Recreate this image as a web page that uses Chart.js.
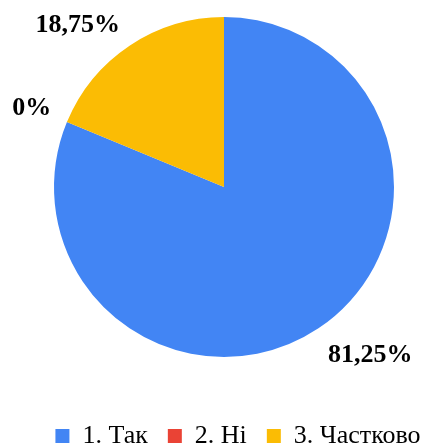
<!DOCTYPE html>
<html lang="uk">
<head>
<meta charset="utf-8">
<title>Pie</title>
<script src="https://cdn.jsdelivr.net/npm/chart.js@4"></script>
<style>
  html, body { margin: 0; padding: 0; background: #fff; overflow: hidden; }
  #wrap { position: relative; width: 428px; height: 447px; }
</style>
</head>
<body>
<div id="wrap"><canvas id="chart"></canvas></div>
<script>
/* ─── Data ─────────────────────────────────────────────────────────── */
const labels  = ['1. Так', '2. Ні', '3. Частково'];
const values  = [81.25, 0, 18.75];
const colours = ['#4285F4', '#EA4335', '#FBBC04'];

const SERIF = '"Liberation Serif", "Times New Roman", serif';

/* ─── Percent labels outside the slices ───────────────────────────── */
const outsideLabels = {
  id: 'outsideLabels',
  afterDatasetsDraw(chart) {
    const ctx = chart.ctx;
    const meta = chart.getDatasetMeta(0);
    ctx.save();
    ctx.font = 'bold 26px ' + SERIF;
    ctx.fillStyle = '#000';
    meta.data.forEach((arc, i) => {
      const { x, y, startAngle, endAngle, outerRadius } = arc.getProps(['x', 'y', 'startAngle', 'endAngle', 'outerRadius'], true);
      const mid = (startAngle + endAngle) / 2;
      const c = Math.cos(mid), s = Math.sin(mid);
      const d = outerRadius + 17;
      // nearest corner of the text sits on the ray through the slice middle
      ctx.textAlign = c >= 0 ? 'left' : 'right';
      ctx.textBaseline = s >= 0 ? 'top' : 'alphabetic';
      const txt = values[i].toString().replace('.', ',') + '%';
      ctx.fillText(txt, x + c * d, y + s * d);
    });
    ctx.restore();
  }
};

// the legend sits a little right of and below where Chart.js puts it
const legendShift = {
  id: 'legendShift',
  afterLayout(chart) {
    const lg = chart.legend;
    if (!lg) return;
    const dx = 14, dy = 29;
    lg.left += dx; lg.right += dx;
    lg.top += dy; lg.bottom += dy;
  }
};

new Chart(document.getElementById('chart'), {
  type: 'pie',
  data: {
    labels: labels,
    datasets: [{
      data: values,
      backgroundColor: colours,
      borderWidth: 0,
      radius: 170
    }]
  },
  options: {
    responsive: true,
    maintainAspectRatio: false,
    animation: false,
    layout: { padding: { top: 0, left: 20, right: 0, bottom: 17 } },
    plugins: {
      tooltip: { enabled: false },
      legend: {
        position: 'bottom',
        labels: {
          boxWidth: 14,
          boxHeight: 14,
          padding: 20,
          color: '#000',
          font: { family: SERIF, size: 26 }
        }
      }
    }
  },
  plugins: [outsideLabels, legendShift]
});
</script>
</body>
</html>
